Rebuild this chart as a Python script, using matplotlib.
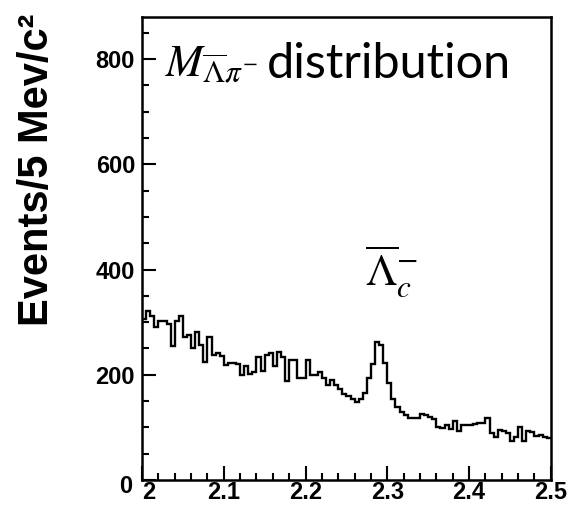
import numpy as np
import matplotlib
matplotlib.use("Agg")
import matplotlib.pyplot as plt
import matplotlib.transforms as mtransforms
from matplotlib.ticker import MultipleLocator

# Histogram counts: 100 bins of 5 MeV from 2.0 to 2.5 GeV
counts = [306, 322, 312, 291, 303, 302, 296, 254, 302, 312,
          272, 275, 251, 281, 257, 224, 272, 238, 241, 236,
          219, 222, 222, 220, 200, 217, 201, 206, 234, 207,
          237, 241, 217, 243, 233, 188, 229, 229, 194, 194,
          229, 200, 200, 205, 194, 180, 190, 180, 172, 163,
          160, 153, 148, 153, 165, 194, 221, 262, 256, 222,
          184, 153, 139, 130, 124, 118, 118, 118, 126, 124,
          119, 115, 100, 98, 105, 96, 112, 94, 105, 104,
          104, 106, 108, 108, 117, 90, 82, 95, 93, 89,
          74, 81, 100, 75, 93, 92, 83, 85, 81, 79]
x_start, x_stop, bin_w = 2.0, 2.5, 0.005
x_ticks = [2.0, 2.1, 2.2, 2.3, 2.4, 2.5]
x_ticklabels = ["2", "2.1", "2.2", "2.3", "2.4", "2.5"]
y_ticks = [0, 200, 400, 600, 800]
y_ticklabels = ["0", "200", "400", "600", "800"]
ylabel = "Events/5 Mev/c²"
title_math = r"$M_{\overline{\Lambda}\pi^{-}}$"
title_word = "distribution"
peak_label = r"$\overline{\Lambda}_{c}^{-}$"

plt.rcParams['mathtext.fontset'] = 'stix'

fig = plt.figure(figsize=(5.75, 5.11), dpi=100)
ax = fig.add_axes([0.247, 0.0607, 0.711, 0.906])

edges = x_start + bin_w * np.arange(len(counts) + 1)
ax.stairs(counts, edges, baseline=None, color='black', linewidth=1.7)

ax.set_xlim(x_start, x_stop)
ax.set_ylim(0, 880)

ax.set_xticks(x_ticks)
ax.set_xticklabels(x_ticklabels)
ax.set_yticks(y_ticks)
ax.set_yticklabels(y_ticklabels)
ax.xaxis.set_minor_locator(MultipleLocator(0.02))
ax.yaxis.set_minor_locator(MultipleLocator(50))
ax.tick_params(which='both', direction='in', top=False, right=False, width=1.5)
ax.tick_params(which='major', length=10)
ax.tick_params(which='minor', length=5)
ax.tick_params(axis='x', pad=1)
ax.tick_params(axis='y', pad=5)
for lab in ax.get_xticklabels() + ax.get_yticklabels():
    lab.set_fontfamily('Liberation Sans')
    lab.set_fontweight('bold')
    lab.set_fontsize(17)
for sp in ax.spines.values():
    sp.set_linewidth(1.8)

# ROOT-like offsets of the first labels at the origin
xl0 = ax.get_xticklabels()[0]
xl0.set_transform(xl0.get_transform() +
                  mtransforms.ScaledTranslation(5 / 72, 0, fig.dpi_scale_trans))
yl0 = ax.get_yticklabels()[0]
yl0.set_transform(yl0.get_transform() +
                  mtransforms.ScaledTranslation(-2 / 72, -3 / 72, fig.dpi_scale_trans))

ax.text(-0.258, 1.008, ylabel, rotation=90, ha='center', va='top',
        transform=ax.transAxes, fontfamily='Liberation Sans',
        fontweight='bold', fontsize=30)

ax.text(0.055, 0.898, title_math, transform=ax.transAxes, ha='left',
        va='center', fontsize=32)
ax.text(0.305, 0.898, title_word, transform=ax.transAxes, ha='left',
        va='center', fontsize=35, fontfamily='Lato')

ax.text(0.61, 0.45, peak_label, transform=ax.transAxes, ha='center',
        va='center', fontsize=32)

fig.savefig("out.png", dpi=100)
